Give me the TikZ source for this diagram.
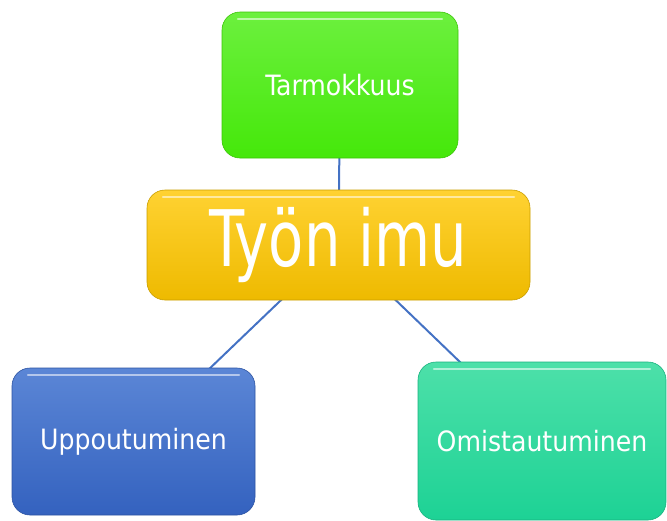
\documentclass[tikz,border=0pt]{standalone}
\usepackage{fontspec}
\setmainfont{DejaVu Sans Condensed}
\newfontfamily\bigfont[FakeStretch=0.82]{DejaVu Sans Condensed}
\definecolor{engGreenTop}{HTML}{6CF03E}
\definecolor{engGreen}{HTML}{45E80A}
\definecolor{engYellowTop}{HTML}{FFD232}
\definecolor{engYellow}{HTML}{EEBA00}
\definecolor{engBlueTop}{HTML}{5B86D6}
\definecolor{engBlue}{HTML}{3462BF}
\definecolor{engTealTop}{HTML}{4DE0A9}
\definecolor{engTeal}{HTML}{1DD295}
\definecolor{linkBlue}{HTML}{4472C4}
\usetikzlibrary{positioning}

\begin{document}
\begin{tikzpicture}[
        x=1pt, y=-1pt,
        block/.style={rounded corners=18pt, inner sep=0pt, text=white, align=center,
          font=\fontsize{28}{32}\selectfont, line width=0.6pt,
          path picture={
            \draw[white, opacity=0.55, line width=2.5pt, line cap=round]
              ([xshift=16pt,yshift=-7pt]path picture bounding box.north west) --
              ([xshift=-16pt,yshift=-7pt]path picture bounding box.north east);
          }},
        link/.style={draw=linkBlue, line width=2pt}
      ]
        \useasboundingbox (0,0) rectangle (667,520);

        % Links, behind the blocks
        \coordinate (c) at (338.5,245);
        \coordinate (t) at (340,85);
        \coordinate (l) at (133.5,441.5);
        \coordinate (r) at (542,441);
        \draw[link] (t) -- (c);
        \draw[link] (c) -- (l);
        \draw[link] (c) -- (r);

        % Centre block
        \node[block, top color=engYellowTop, bottom color=engYellow, draw=engYellow!85!black,
              minimum width=383pt, minimum height=110pt,
              font=\bigfont\fontsize{78}{80}\selectfont] (imu) at (c) {Työn imu};

        % Top block
        \node[block, top color=engGreenTop, bottom color=engGreen, draw=engGreen!85!black,
              minimum width=236pt, minimum height=146pt] (tarmo) at (t) {Tarmokkuus};

        % Lower blocks
        \node[block, top color=engBlueTop, bottom color=engBlue, draw=engBlue!85!black,
              minimum width=243pt, minimum height=147pt] (uppo) at (l) {Uppoutuminen};
        \node[block, top color=engTealTop, bottom color=engTeal, draw=engTeal!85!black,
              minimum width=248pt, minimum height=158pt] (omis) at (r) {Omistautuminen};
      \end{tikzpicture}
\end{document}
